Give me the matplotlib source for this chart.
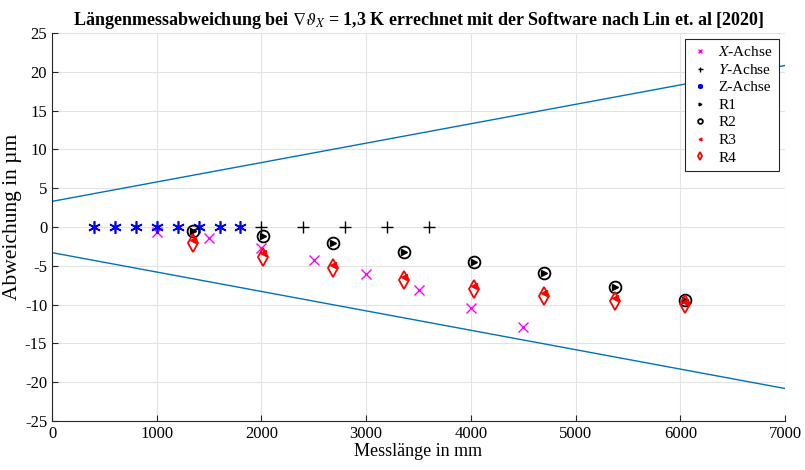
import numpy as np
import matplotlib
matplotlib.use("Agg")
import matplotlib.pyplot as plt

plt.rcParams["font.family"] = ["Liberation Serif", "DejaVu Serif"]
plt.rcParams["mathtext.fontset"] = "stix"
plt.rcParams["axes.unicode_minus"] = False

''' Data '''
# measurements along the axes
x_len = [1000, 1500, 2000, 2500, 3000, 3500, 4000, 4500]
x_dev = [-0.6, -1.4, -2.7, -4.2, -6.0, -8.1, -10.4, -12.9]

y_len = [2000, 2400, 2800, 3200, 3600]
y_dev = [0, 0, 0, 0, 0]

z_len = [400, 600, 800, 1000, 1200, 1400, 1600, 1800]
z_dev = [0, 0, 0, 0, 0, 0, 0, 0]

# room diagonals
r_len = [1343, 2015, 2686, 3358, 4030, 4701, 5373, 6045]
r1_dev = [-0.5, -1.1, -2.0, -3.2, -4.5, -5.9, -7.7, -9.4]
r2_dev = [-0.5, -1.1, -2.0, -3.2, -4.5, -5.9, -7.7, -9.4]
r3_dev = [-1.7, -3.4, -4.9, -6.4, -7.6, -8.5, -9.1, -9.6]
r4_dev = [-2.1, -3.8, -5.3, -6.8, -8.0, -8.9, -9.5, -9.9]

# tolerance limits
tol_len = [0, 7000]
tol_upper = [3.3, 20.8]
tol_lower = [-3.3, -20.8]

''' Plot '''
fig = plt.figure(figsize=(8.05, 4.70), dpi=100)
ax = fig.add_axes([0.0646, 0.104, 0.9106, 0.826])

ax.plot(tol_len, tol_upper, color="#0072BD", lw=1.0, zorder=2)
ax.plot(tol_len, tol_lower, color="#0072BD", lw=1.0, zorder=2)

ax.plot(x_len, x_dev, ls="none", marker="x", ms=6.5, mew=1.0, color="magenta", label="$X$-Achse", zorder=3)
ax.plot(y_len, y_dev, ls="none", marker="+", ms=9, mew=1.0, color="black", label="$Y$-Achse", zorder=3)
ax.plot(z_len, z_dev, ls="none", marker=(6, 2, 0), ms=9, mew=1.2, color="blue", label="Z-Achse", zorder=3)
ax.plot(r_len, r1_dev, ls="none", marker=">", ms=5, color="black", label="R1", zorder=4)
ax.plot(r_len, r2_dev, ls="none", marker="o", ms=8.5, mew=1.3, mfc="none", color="black", label="R2", zorder=4)
ax.plot(r_len, r3_dev, ls="none", marker="<", ms=5, color="red", label="R3", zorder=4)
ax.plot(r_len, r4_dev, ls="none", marker="d", ms=9, mew=1.3, mfc="none", color="red", label="R4", zorder=4)

ax.set_xlim(0, 7000)
ax.set_ylim(-25, 25)
ax.set_xticks(np.arange(0, 7001, 1000))
ax.set_yticks(np.arange(-25, 26, 5))
ax.grid(True, color="#e3e3e3", lw=0.8)
ax.set_axisbelow(True)
ax.tick_params(direction="in", labelsize=12, length=4, color="#262626")
ax.spines["top"].set_visible(False)
ax.spines["right"].set_visible(False)
for side in ["left", "bottom"]:
    ax.spines[side].set_color("#262626")
    ax.spines[side].set_linewidth(0.8)

ax.set_xlabel("Messlänge in mm", fontsize=13, labelpad=1)
ax.set_ylabel("Abweichung in µm", fontsize=15.5)
ax.yaxis.set_label_coords(-0.041, 0.526)
ax.set_title(r"Längenmessabweichung bei $\nabla\vartheta_X$ = 1,3 K errechnet mit der Software nach Lin et. al [2020]",
             fontsize=13, fontweight="bold", pad=6)

leg = ax.legend(loc="upper right", fontsize=11, markerscale=0.4, handlelength=1.2,
                handletextpad=0.6, borderpad=0.4, labelspacing=0.25, fancybox=False,
                framealpha=1, edgecolor="#262626", borderaxespad=0.4)
leg.get_frame().set_linewidth(0.8)

plt.savefig("out.png", dpi=100)
